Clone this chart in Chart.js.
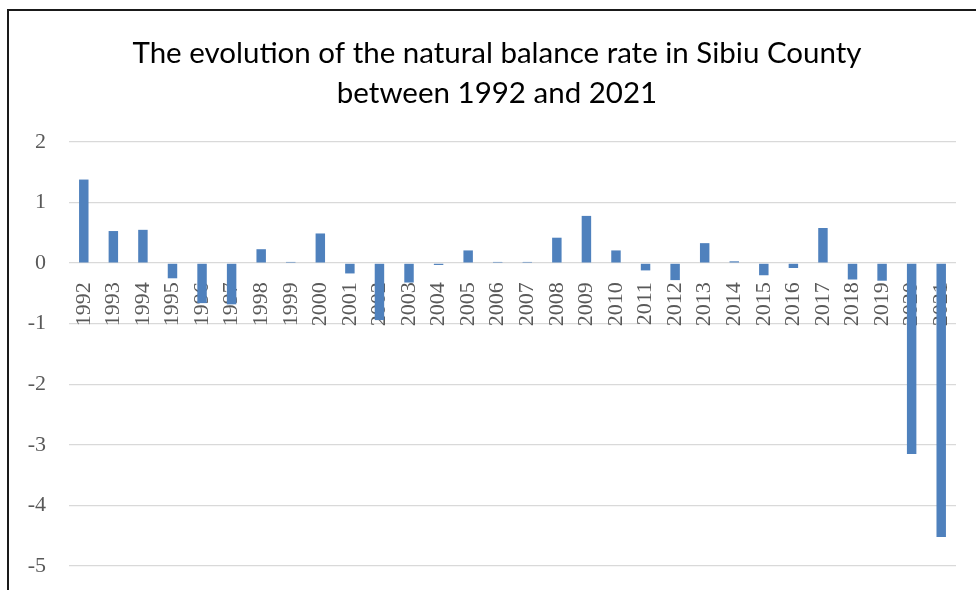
<!DOCTYPE html>
<html>
<head>
<meta charset="utf-8">
<script src="https://cdn.jsdelivr.net/npm/chart.js@4"></script>
<style>
  html, body { margin: 0; padding: 0; background: #fff; overflow: hidden; }
  #frame {
    position: absolute;
    left: 7px;
    top: 9px;
    width: 1000px;
    height: 600px;
    border: 2px solid #1a1a1a;
  }
  #wrap { position: absolute; left: 0; top: 0; width: 994px; height: 590px; }
</style>
</head>
<body>
<div id="frame"></div>
<div id="wrap"><canvas id="chart" width="994" height="590"></canvas></div>
<script>
// setup variables
const ctx = document.querySelector("#chart").getContext("2d");

// chart data
const years = [
  "1992", "1993", "1994", "1995", "1996", "1997", "1998", "1999", "2000", "2001",
  "2002", "2003", "2004", "2005", "2006", "2007", "2008", "2009", "2010", "2011",
  "2012", "2013", "2014", "2015", "2016", "2017", "2018", "2019", "2020", "2021",
];
const balanceRate = [
  1.38, 0.53, 0.55, -0.25, -0.66, -0.68, 0.23, 0.02, 0.49, -0.17,
  -0.94, -0.32, -0.03, 0.21, 0.02, 0.02, 0.42, 0.78, 0.21, -0.12,
  -0.28, 0.33, 0.03, -0.2, -0.08, 0.58, -0.27, -0.29, -3.15, -4.52,
];
const titleLines = [
  "The evolution of the natural balance rate in Sibiu County",
  "between 1992 and 2021",
];
const yMin = -5;
const yMax = 2;

const labelFont = { family: "'Liberation Serif', serif", size: 22 };

// drop the extra room chart.js keeps round the tick labels
const noScalePadding = (scale) => {
  scale.paddingTop = 0;
  scale.paddingBottom = 0;
};

// chart template
const barData = {
  type: "bar",
  data: {
    labels: years,
    datasets: [
      {
        label: "natural balance rate",
        data: balanceRate,
        backgroundColor: "#4f81bd",
        barPercentage: 0.32,
        categoryPercentage: 1,
      },
    ],
  },
  options: {
    responsive: false,
    animation: false,
    layout: {
      padding: { left: 0, right: 0, top: 0, bottom: 24 },
    },
    scales: {
      x: {
        position: { y: 0 },
        z: 1,
        afterFit: (scale) => {
          scale.height = 0;
          noScalePadding(scale);
        },
        grid: { display: false, drawTicks: false },
        border: { display: false },
        ticks: {
          color: "#595959",
          font: labelFont,
          minRotation: 90,
          maxRotation: 90,
          autoSkip: false,
          padding: 19,
        },
      },
      y: {
        min: yMin,
        max: yMax,
        afterFit: (scale) => {
          scale.width = 69;
          noScalePadding(scale);
        },
        grid: { color: "#d9d9d9", lineWidth: 1.3, drawTicks: false },
        border: { display: false },
        ticks: {
          stepSize: 1,
          color: "#595959",
          font: labelFont,
          padding: 23,
        },
      },
      // empty right box, keeps the title centred like the original
      yRight: {
        position: "right",
        min: yMin,
        max: yMax,
        afterFit: (scale) => {
          scale.width = 38;
          noScalePadding(scale);
        },
        grid: { display: false, drawTicks: false },
        border: { display: false },
        ticks: { display: false },
      },
    },
    plugins: {
      legend: { display: false },
      tooltip: { enabled: false },
      title: {
        display: true,
        text: titleLines,
        color: "#000",
        font: { family: "Lato, sans-serif", size: 29.5, weight: "normal", lineHeight: "40px" },
        padding: { top: 33, bottom: 29 },
      },
    },
  },
};

const rateChart = new Chart(ctx, barData);
</script>
</body>
</html>
